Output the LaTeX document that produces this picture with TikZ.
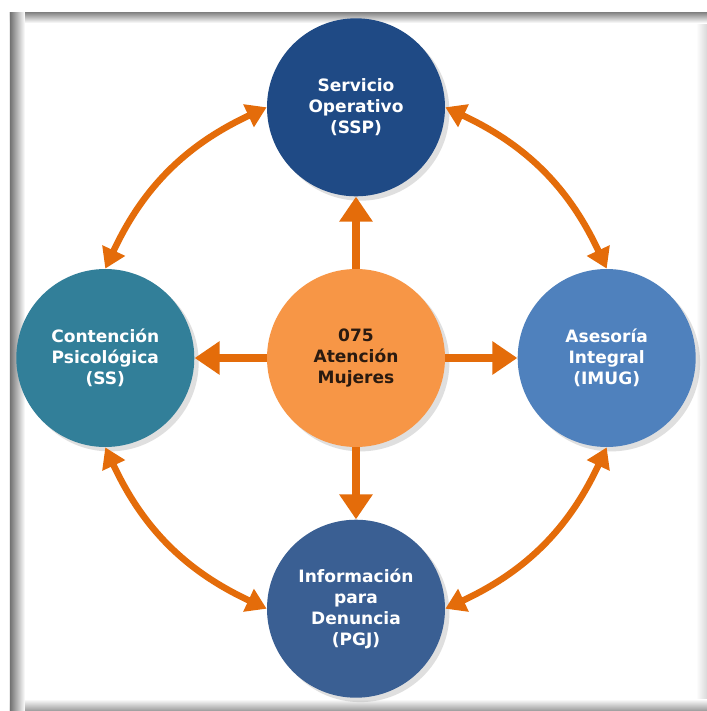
\documentclass[tikz,border=0pt]{standalone}
\usepackage{fontspec}
\setmainfont{DejaVu Sans}
\usetikzlibrary{positioning}
\usetikzlibrary{arrows.meta}
\usetikzlibrary{shadows}
\definecolor{azulSSP}{HTML}{1F4A85}
\definecolor{tealSS}{HTML}{327F99}
\definecolor{azulIMUG}{HTML}{4F81BD}
\definecolor{azulPGJ}{HTML}{3A5F93}
\definecolor{naranja}{HTML}{F79646}
\definecolor{naranjaFl}{HTML}{E46C0A}
\definecolor{textoC}{HTML}{2A1A10}

\begin{document}
\begin{tikzpicture}[
        node distance= 1.44cm and 1.44cm,
        circ/.style={circle, inner sep=0pt, minimum size=3.56cm, align=center, text=white,
            font=\bfseries\fontsize{9.7}{12}\selectfont,
            drop shadow={shadow xshift=2.5pt, shadow yshift=-2.5pt, opacity=0.25}},
        arrow/.style={line width=0.16cm, naranjaFl, -{Triangle[width=0.64cm, length=0.5cm]}},
        darrow/.style={line width=0.13cm, naranjaFl, {Triangle[width=0.48cm, length=0.4cm]}-{Triangle[width=0.48cm, length=0.4cm]}}
    ]
        \useasboundingbox (-7.12,7.16) rectangle (7.02,-7.06);
        % marco
        \fill[white] (-7.12,7.16) rectangle (7.02,-7.06);
        \shade[left color=white, right color=black!15] (6.80,6.92) rectangle (7.02,-7.06);
        \shade[top color=white, bottom color=black!40] (-6.92,-6.82) rectangle (7.02,-7.06);
        \shade[top color=black!50, bottom color=white] (-6.92,6.92) rectangle (7.02,6.70);
        \shade[left color=black!55, right color=white] (-6.92,6.92) rectangle (-6.62,-7.06);

        \node[circ, fill=naranja, text=textoC] (c) {075\\Atención\\Mujeres};
        \node[circ, fill=azulSSP, above = of c] (top) {Servicio\\Operativo\\(SSP)};
        \node[circ, fill=tealSS, left = of c] (left) {Contención\\Psicológica\\(SS)};
        \node[circ, fill=azulIMUG, right = of c] (right) {Asesoría\\Integral\\(IMUG)};
        \node[circ, fill=azulPGJ, below = of c] (bottom) {Información\\para\\Denuncia\\(PGJ)};

        \draw[arrow] (c) -- (top);
        \draw[arrow] (c) -- (left);
        \draw[arrow] (c) -- (right);
        \draw[arrow] (c) -- (bottom);

        \draw[darrow] (top.west) to[bend right=20] (left.north);
        \draw[darrow] (top.east) to[bend left=20] (right.north);
        \draw[darrow] (left.south) to[bend right=20] (bottom.west);
        \draw[darrow] (right.south) to[bend left=20] (bottom.east);
    \end{tikzpicture}
\end{document}
